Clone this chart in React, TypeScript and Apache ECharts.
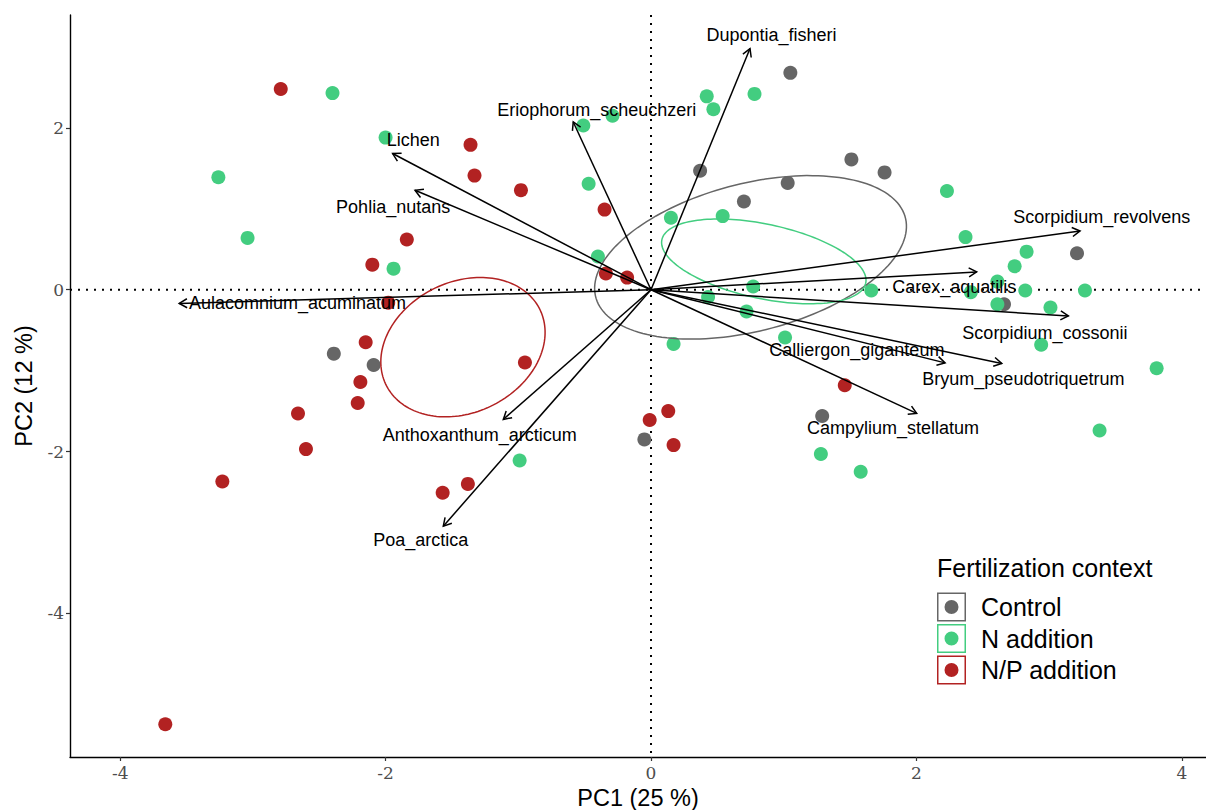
import React, { useEffect, useRef } from "react";
import * as echarts from "echarts";

// ---------- data ----------
const groups = ["Control", "N addition", "N/P addition"];
const groupColors = ["#666666", "#43CD80", "#B22222"];

const controlPoints = [
  [1.05, 2.68], [0.37, 1.47], [1.03, 1.32], [0.70, 1.09], [1.51, 1.61], [1.76, 1.45],
  [3.21, 0.45], [2.66, -0.18], [1.29, -1.56], [-0.05, -1.85], [-2.39, -0.79], [-2.09, -0.93],
];

const nAdditionPoints = [
  [-2.40, 2.43], [-2.00, 1.88], [-3.26, 1.39], [-3.04, 0.64], [-1.94, 0.26], [-0.51, 2.03],
  [-0.29, 2.15], [0.42, 2.39], [0.47, 2.23], [0.78, 2.42], [-0.47, 1.31], [0.15, 0.89],
  [0.54, 0.91], [-0.40, 0.41], [0.77, 0.04], [0.43, -0.09], [2.23, 1.22], [2.37, 0.65],
  [2.83, 0.47], [2.74, 0.29], [1.66, -0.01], [2.41, -0.03], [2.61, 0.10], [2.82, -0.01],
  [3.27, -0.01], [2.61, -0.18], [3.01, -0.22], [2.94, -0.68], [3.81, -0.97], [0.72, -0.27],
  [1.01, -0.59], [0.17, -0.67], [-0.99, -2.11], [1.28, -2.03], [1.58, -2.25], [3.38, -1.74],
];

const npAdditionPoints = [
  [-2.79, 2.48], [-1.36, 1.79], [-1.33, 1.41], [-0.98, 1.23], [-0.35, 0.99], [-1.84, 0.62],
  [-2.10, 0.31], [-1.98, -0.16], [-0.34, 0.20], [-0.18, 0.15], [-2.15, -0.65], [-2.19, -1.14],
  [-2.21, -1.40], [-2.66, -1.53], [-2.60, -1.97], [-3.23, -2.37], [-0.95, -0.90], [-1.57, -2.51],
  [-1.38, -2.40], [-0.01, -1.61], [0.13, -1.50], [0.17, -1.92], [1.46, -1.18], [-3.66, -5.37],
];

const species = [
  "Dupontia_fisheri", "Eriophorum_scheuchzeri", "Lichen", "Pohlia_nutans",
  "Aulacomnium_acuminatum", "Anthoxanthum_arcticum", "Poa_arctica", "Campylium_stellatum",
  "Bryum_pseudotriquetrum", "Calliergon_giganteum", "Scorpidium_cossonii", "Carex_aquatilis",
  "Scorpidium_revolvens",
];
const loadingX = [0.746, -0.586, -1.947, -1.778, -3.555, -1.113, -1.565, 2.002, 2.643, 2.216, 3.145, 2.454, 3.233];
const loadingY = [2.980, 2.073, 1.683, 1.229, -0.170, -1.603, -2.922, -1.529, -0.912, -0.904, -0.324, 0.220, 0.726];
const labelX = [0.908, -0.409, -1.791, -1.943, -2.664, -1.291, -1.735, 1.824, 2.806, 1.551, 2.968, 2.285, 3.396];
const labelY = [3.144, 2.226, 1.847, 1.027, -0.170, -1.797, -3.095, -1.715, -1.106, -0.747, -0.529, 0.035, 0.899];

// concentration ellipses (center, semi-axes, rotation in data units)
const ellipseCenterX = [0.75, 0.85, -1.417];
const ellipseCenterY = [0.40, 0.35, -0.71];
const ellipseSemiMajor = [1.298, 0.821, 0.880];
const ellipseSemiMinor = [0.846, 0.440, 0.592];
const ellipseAngleDeg = [34.1, -24.2, 73.9];

const xTicks = [-4, -2, 0, 2, 4];
const yTicks = [-4, -2, 0, 2];

const FONT = "'Liberation Sans', Arial, Helvetica, sans-serif";
const TICK_FONT = "'DejaVu Serif', 'Liberation Serif', serif";

const LEGEND_ICON =
  "path://M0 0H29V29H0Z M1.5 1.5V27.5H27.5V1.5Z M7.5 14.5A7 7 0 1 1 21.5 14.5A7 7 0 1 1 7.5 14.5Z";

export default function App() {
  const ref = useRef<HTMLDivElement>(null);

  useEffect(() => {
    if (!ref.current) return;
    const chart = echarts.init(ref.current, null, { renderer: "svg", width: 1206, height: 810 });

    const pointSets = [controlPoints, nAdditionPoints, npAdditionPoints];

    const scatterSeries = groups.map((g, i) => ({
      name: g,
      type: "scatter",
      data: pointSets[i],
      symbol: "circle",
      symbolSize: 14,
      itemStyle: { color: groupColors[i], opacity: 1 },
      z: 2,
    }));

    const option: any = {
      animation: false,
      backgroundColor: "#ffffff",
      grid: { left: 70, right: 0, top: 15, bottom: 53, containLabel: false, outerBoundsMode: "none" },
      xAxis: {
        type: "value",
        min: -4.378,
        max: 4.182,
        name: "PC1 (25 %)",
        nameLocation: "middle",
        nameGap: 27,
        nameTextStyle: { fontSize: 23.5, color: "#000", fontFamily: FONT },
        splitLine: { show: false },
        axisLine: { show: true, onZero: false, lineStyle: { color: "#000", width: 1.4 } },
        axisTick: { show: true, length: 4, customValues: xTicks, lineStyle: { color: "#333", width: 1.2 } },
        axisLabel: {
          customValues: xTicks,
          margin: 7,
          fontSize: 17,
          color: "#4D4D4D",
          fontFamily: TICK_FONT,
        },
      },
      yAxis: {
        type: "value",
        min: -5.775,
        max: 3.395,
        name: "PC2 (12 %)",
        nameLocation: "middle",
        nameGap: 34,
        nameRotate: 90,
        nameTextStyle: { fontSize: 23.5, color: "#000", fontFamily: FONT },
        splitLine: { show: false },
        axisLine: { show: true, onZero: false, lineStyle: { color: "#000", width: 1.4 } },
        axisTick: { show: true, length: 4, customValues: yTicks, lineStyle: { color: "#333", width: 1.2 } },
        axisLabel: {
          customValues: yTicks,
          margin: 6,
          fontSize: 17,
          color: "#4D4D4D",
          fontFamily: TICK_FONT,
        },
      },
      legend: {
        orient: "vertical",
        left: 937,
        top: 592.5,
        padding: 0,
        itemWidth: 29,
        itemHeight: 29,
        itemGap: 2.5,
        icon: LEGEND_ICON,
        selectedMode: false,
        data: groups,
        textStyle: { fontSize: 25, color: "#000", fontFamily: FONT, padding: [0, 0, 0, 10] },
      },
      graphic: [
        {
          type: "text",
          left: 937,
          top: 555,
          style: { text: "Fertilization context", fontSize: 25, fill: "#000", fontFamily: FONT },
        },
      ],
      series: [
        {
          name: "zero-lines",
          type: "custom",
          z: 1,
          silent: true,
          data: [[0, 0]],
          renderItem: (params: any, api: any) => {
            const cs = params.coordSys;
            const o = api.coord([0, 0]);
            const st = { stroke: "#000", lineWidth: 2, lineDash: [2, 6] };
            return {
              type: "group",
              children: [
                { type: "line", shape: { x1: cs.x, y1: o[1], x2: cs.x + cs.width, y2: o[1] }, style: st },
                { type: "line", shape: { x1: o[0], y1: cs.y, x2: o[0], y2: cs.y + cs.height }, style: st },
              ],
            };
          },
        },
        ...scatterSeries,
        {
          name: "ellipses",
          type: "custom",
          z: 3,
          silent: true,
          data: groups.map((_, i) => [ellipseCenterX[i], ellipseCenterY[i]]),
          renderItem: (params: any, api: any) => {
            const i = params.dataIndex;
            const cx = ellipseCenterX[i];
            const cy = ellipseCenterY[i];
            const a = ellipseSemiMajor[i];
            const b = ellipseSemiMinor[i];
            const th = (ellipseAngleDeg[i] * Math.PI) / 180;
            const pts: number[][] = [];
            const n = 160;
            for (let k = 0; k <= n; k++) {
              const t = (2 * Math.PI * k) / n;
              const dx = a * Math.cos(t);
              const dy = b * Math.sin(t);
              pts.push(api.coord([cx + dx * Math.cos(th) - dy * Math.sin(th), cy + dx * Math.sin(th) + dy * Math.cos(th)]));
            }
            return {
              type: "polyline",
              shape: { points: pts },
              style: { stroke: groupColors[i], lineWidth: 1.5, fill: null },
            };
          },
        },
        {
          name: "arrows",
          type: "custom",
          z: 4,
          silent: true,
          data: species.map((_, i) => [loadingX[i], loadingY[i]]),
          renderItem: (params: any, api: any) => {
            const o = api.coord([0, 0]);
            const p = api.coord([api.value(0), api.value(1)]);
            const ang = Math.atan2(p[1] - o[1], p[0] - o[0]);
            const L = 9;
            const A = Math.PI / 6;
            const h1 = [p[0] - L * Math.cos(ang - A), p[1] - L * Math.sin(ang - A)];
            const h2 = [p[0] - L * Math.cos(ang + A), p[1] - L * Math.sin(ang + A)];
            const st = { stroke: "#000", lineWidth: 1.5, fill: null };
            return {
              type: "group",
              children: [
                { type: "line", shape: { x1: o[0], y1: o[1], x2: p[0], y2: p[1] }, style: st },
                { type: "polyline", shape: { points: [h1, p, h2] }, style: st },
              ],
            };
          },
        },
        {
          name: "labels",
          type: "custom",
          z: 5,
          silent: true,
          data: species.map((_, i) => [labelX[i], labelY[i]]),
          renderItem: (params: any, api: any) => {
            const c = api.coord([api.value(0), api.value(1)]);
            return {
              type: "text",
              x: c[0],
              y: c[1],
              style: {
                text: species[params.dataIndex],
                fontSize: 18,
                fontFamily: FONT,
                fill: "#000",
                align: "center",
                verticalAlign: "middle",
              },
            };
          },
        },
      ],
    };

    chart.setOption(option);
    return () => chart.dispose();
  }, []);

  return (
    <div
      ref={ref}
      style={{ position: "absolute", left: 0, top: 0, width: 1206, height: 810, background: "#fff" }}
    />
  );
}
